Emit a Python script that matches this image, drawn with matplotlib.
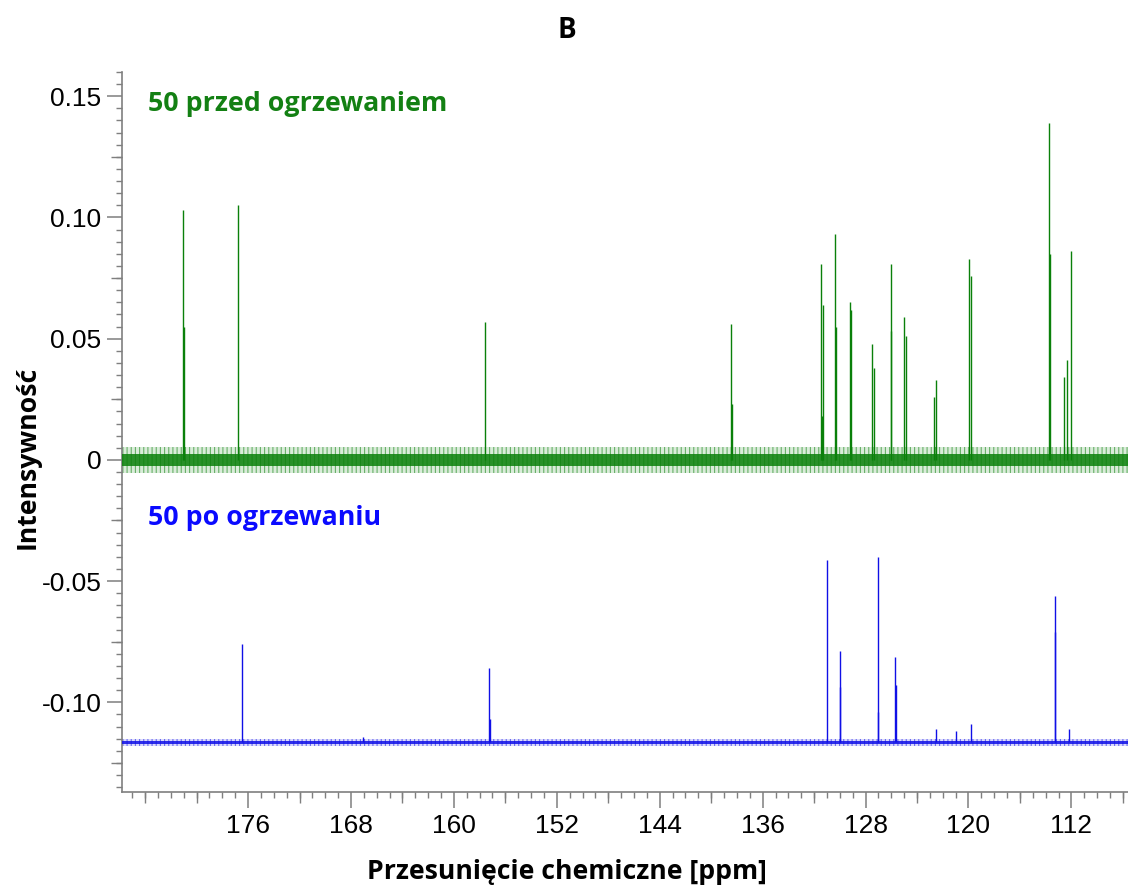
import matplotlib
matplotlib.use("Agg")
import matplotlib.pyplot as plt
from matplotlib.ticker import FixedLocator, MultipleLocator, NullFormatter

# 13C spectrum before heating: line positions (ppm) and apex intensities
before_ppm = [181.03, 181.00, 176.78, 157.56, 138.45, 138.42, 131.45, 131.40,
              131.27, 130.34, 130.30, 129.20, 129.15, 127.52, 127.31, 126.04,
              126.00, 125.03, 124.85, 122.67, 122.52, 119.93, 119.80, 113.72,
              113.70, 112.57, 112.36, 112.05]
before_int = [0.103, 0.055, 0.105, 0.057, 0.056, 0.023, 0.081, 0.018,
              0.064, 0.093, 0.055, 0.065, 0.062, 0.048, 0.038, 0.081,
              0.053, 0.059, 0.051, 0.026, 0.033, 0.083, 0.076, 0.139,
              0.085, 0.034, 0.041, 0.086]
before_baseline = 0.0
before_noise = [0.0024, 0.0055]   # dense core / outer spikes half-width

# 13C spectrum after heating (offset trace)
after_ppm = [176.44, 157.25, 157.22, 131.01, 130.02, 129.99, 127.05, 127.02,
             125.68, 125.65, 113.30, 113.27, 122.50, 121.00, 119.80, 112.20,
             167.1]
after_int = [-0.0758, -0.0857, -0.1070, -0.0412, -0.0790, -0.0935, -0.0401,
             -0.1038, -0.0813, -0.0928, -0.0563, -0.0708, -0.1110, -0.1120,
             -0.1090, -0.1110, -0.1145]
after_baseline = -0.1165
after_noise = [0.0007, 0.0014]

x_major = [176, 168, 160, 152, 144, 136, 128, 120, 112]
x_medium = [184, 180, 172, 164, 156, 148, 140, 132, 124, 116, 108]
y_major = [0.15, 0.10, 0.05, 0.0, -0.05, -0.10]
y_major_labels = ["0.15", "0.10", "0.05", "0", "-0.05", "-0.10"]
y_medium = [0.125, 0.075, 0.025, -0.025, -0.075, -0.125]

xlim = (185.8, 107.6)
ylim = (-0.137, 0.160)

green = "#0a800a"
green_text = "#138013"
blue = "#1010e6"
blue_text = "#0a0aff"
axis_grey = "#7f7f7f"

label_font = ["Open Sans", "DejaVu Sans"]
tick_font = "Liberation Sans"

plt.rcParams["hatch.linewidth"] = 0.8

fig = plt.figure(figsize=(11.28, 8.90), dpi=100)
ax = fig.add_axes([122 / 1128, 1 - 792 / 890, 1 - 122 / 1128, (792 - 72) / 890])
ax.set_xlim(*xlim)
ax.set_ylim(*ylim)


def draw_trace(ppm, inten, base, noise, color):
    x0, x1 = xlim
    # outer noise envelope, textured with fine vertical strokes
    ax.fill_between([x0, x1], base - noise[1], base + noise[1],
                    facecolor="none", edgecolor=color, hatch="||||",
                    alpha=0.55, lw=0, zorder=2)
    ax.fill_between([x0, x1], base - noise[1], base + noise[1],
                    color=color, alpha=0.15, lw=0, zorder=2)
    ax.fill_between([x0, x1], base - noise[0], base + noise[0],
                    color=color, alpha=0.85, lw=0, zorder=3)
    ax.vlines(ppm, base, inten, colors=color, lw=1.0, zorder=4)


draw_trace(before_ppm, before_int, before_baseline, before_noise, green)
draw_trace(after_ppm, after_int, after_baseline, after_noise, blue)

# Axes styling: only left and bottom spines, outward ticks
for side in ("top", "right"):
    ax.spines[side].set_visible(False)
for side in ("left", "bottom"):
    ax.spines[side].set_color(axis_grey)
    ax.spines[side].set_linewidth(1.2)

ax.xaxis.set_major_locator(FixedLocator(x_major))
ax.xaxis.set_minor_locator(MultipleLocator(1))
ax.set_xticklabels([str(v) for v in x_major])
ax.yaxis.set_major_locator(FixedLocator(y_major))
ax.yaxis.set_minor_locator(MultipleLocator(0.005))
ax.set_yticklabels(y_major_labels)

ax.tick_params(axis="both", which="major", direction="out", color=axis_grey,
               width=1.1, labelsize=19, labelcolor="black")
ax.tick_params(axis="x", which="major", length=11.5, pad=4)
ax.tick_params(axis="y", which="major", length=10.8, pad=4)
ax.tick_params(axis="both", which="minor", direction="out", color=axis_grey,
               width=1.0, length=4.5)
for lab in ax.get_xticklabels() + ax.get_yticklabels():
    lab.set_fontfamily(tick_font)

# Intermediate tick marks
secx = ax.secondary_xaxis("bottom")
secx.set_xticks(x_medium)
secx.xaxis.set_major_formatter(NullFormatter())
secx.tick_params(direction="out", length=8, width=1.0, color=axis_grey)
secx.spines["bottom"].set_visible(False)
secy = ax.secondary_yaxis("left")
secy.set_yticks(y_medium)
secy.yaxis.set_major_formatter(NullFormatter())
secy.tick_params(direction="out", length=8, width=1.0, color=axis_grey)
secy.spines["left"].set_visible(False)

ax.text(183.8, 0.1467, "50 przed ogrzewaniem", color=green_text,
        fontsize=19.3, fontweight="bold", family=label_font,
        ha="left", va="center")
ax.text(183.8, -0.0239, "50 po ogrzewaniu", color=blue_text,
        fontsize=19.3, fontweight="bold", family=label_font,
        ha="left", va="center")

fig.text(567 / 1128, 1 - 30 / 890, "B", fontsize=20, fontweight="bold",
         family=label_font, ha="center", va="center")
fig.text(567 / 1128, 1 - 872 / 890, "Przesunięcie chemiczne [ppm]",
         fontsize=19.2, fontweight="bold", family=label_font,
         ha="center", va="center")
fig.text(28 / 1128, 1 - 457 / 890, "Intensywność", rotation=90,
         fontsize=19.2, fontweight="bold", family=label_font,
         ha="center", va="center")

fig.savefig("out.png", dpi=100)
